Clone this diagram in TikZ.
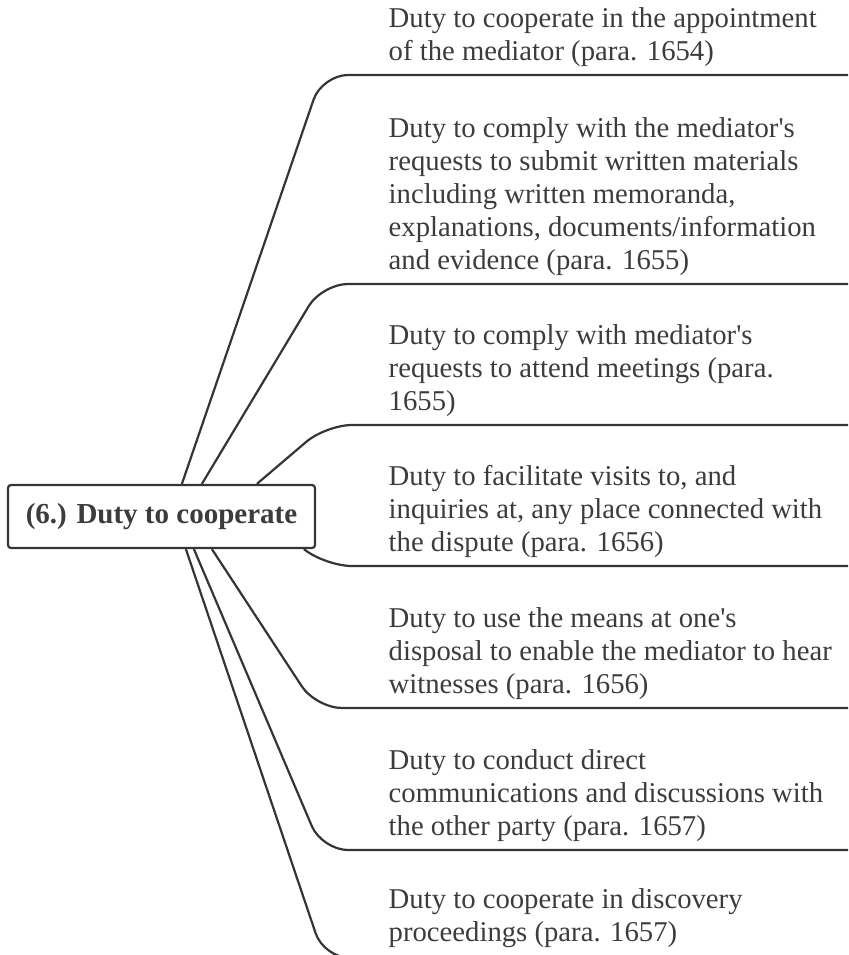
\documentclass[tikz,border=0pt]{standalone}
\usepackage{fontspec}
\setmainfont{Liberation Serif}[Ligatures=TeXOff]
\definecolor{inkline}{HTML}{353535}
\definecolor{inktext}{HTML}{3C3C3C}
\begin{document}
\begin{tikzpicture}[x=1pt,y=-1pt,
  branch/.style={draw=inkline, line width=2.2pt, rounded corners=26pt},
  leaf/.style={anchor=south west, inner sep=0pt, align=left, text=inktext,
    text depth=0pt, font=\fontsize{28.7}{33}\selectfont},
  hub/.style={draw=inkline, line width=2.2pt, rounded corners=3pt, fill=white,
    minimum width=307pt, minimum height=63pt, inner sep=0pt, text=inktext,
    font=\fontsize{29}{35}\selectfont\bfseries}]
\useasboundingbox (0,0) rectangle (848,955);
\begin{scope}
\clip (0,0) rectangle (848,955);

% topic texts, each sitting on its own branch line
\node[leaf] (t1) at (388.5,61) {Duty to cooperate in the appointment\\of the mediator (para. 1654)};
\node[leaf] (t2) at (388.5,270) {Duty to comply with the mediator's\\requests to submit written materials\\including written memoranda,\\explanations, documents/information\\and evidence (para. 1655)};
\node[leaf] (t3) at (388.5,411) {Duty to comply with mediator's\\requests to attend meetings (para.\\1655)};
\node[leaf] (t4) at (388.5,552) {Duty to facilitate visits to, and\\inquiries at, any place connected with\\the dispute (para. 1656)};
\node[leaf] (t5) at (388.5,694) {Duty to use the means at one's\\disposal to enable the mediator to hear\\witnesses (para. 1656)};
\node[leaf] (t6) at (388.5,836) {Duty to conduct direct\\communications and discussions with\\the other party (para. 1657)};
\node[leaf] (t7) at (388.5,942) {Duty to cooperate in discovery\\proceedings (para. 1657)};

% bends and right ends of the branch lines
\coordinate (k1) at (322,75);  \coordinate (e1) at (848,75);
\coordinate (k2) at (322,284); \coordinate (e2) at (848,284);
\coordinate (k3) at (326,425); \coordinate (e3) at (848,425);
\coordinate (k4) at (326,566); \coordinate (e4) at (848,566);
\coordinate (k5) at (316,708); \coordinate (e5) at (848,708);
\coordinate (k6) at (322,850); \coordinate (e6) at (848,850);
\coordinate (k7) at (324,958); \coordinate (e7) at (848,958);

% central topic
\node[hub] (hub) at (161.5,516.5) {(6.) Duty to cooperate};

% branches from the central topic
\draw[branch] ([xshift=175pt]hub.north west) -- (k1) -- (e1);
\draw[branch] ([xshift=195pt]hub.north west) -- (k2) -- (e2);
\draw[branch] ([xshift=250pt]hub.north west) -- (k3) -- (e3);
\draw[branch] ([xshift=297pt]hub.south west) -- (k4) -- (e4);
\draw[branch] ([xshift=205pt]hub.south west) -- (k5) -- (e5);
\draw[branch] ([xshift=187pt]hub.south west) -- (k6) -- (e6);
\draw[branch] ([xshift=179pt]hub.south west) -- (k7) -- (e7);
\end{scope}
\end{tikzpicture}
\end{document}
